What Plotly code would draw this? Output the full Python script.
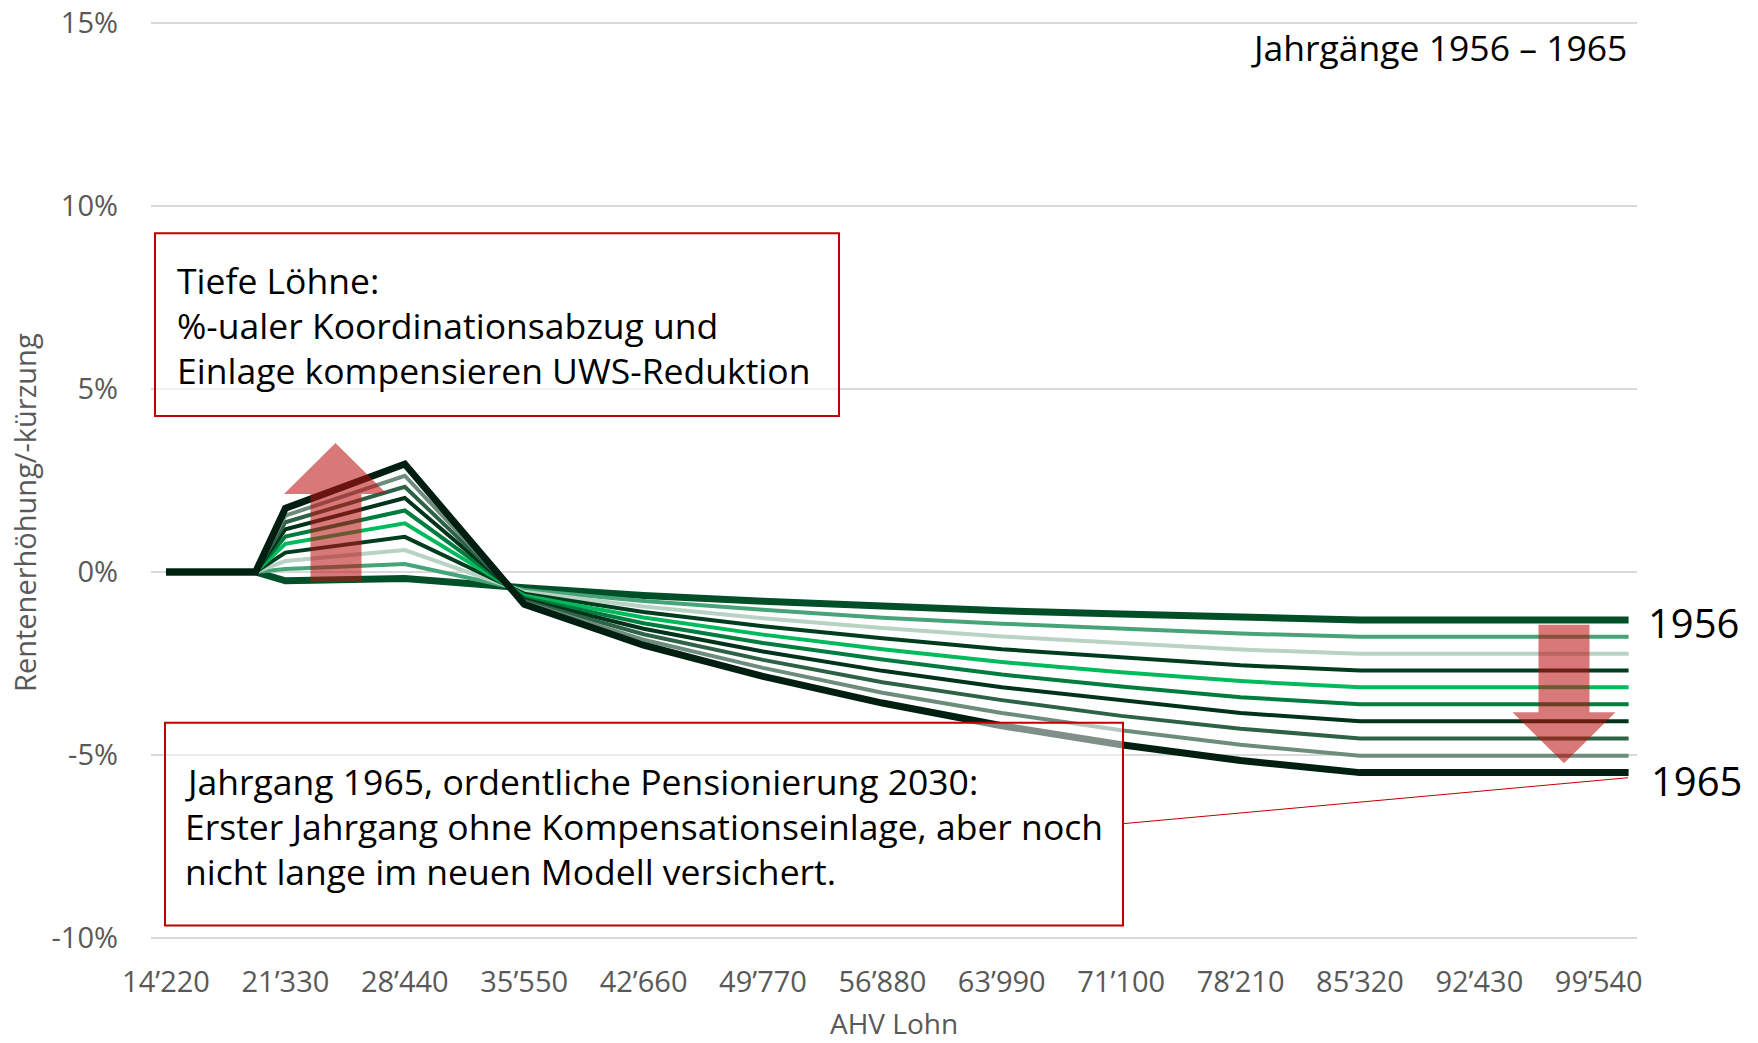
import plotly.graph_objects as go

# ---------------- data ----------------
years = ["1956", "1957", "1958", "1959", "1960", "1961", "1962", "1963", "1964", "1965"]
# wage points (category step 1777.5 CHF)
wages = [14220, 19552.5, 21330, 28440, 35550, 42660, 49770, 56880, 63990, 71100, 78210, 85320, 101317.5]

v1956 = [0, 0, -0.24, -0.18, -0.43, -0.64, -0.80, -0.95, -1.06, -1.15, -1.25, -1.31, -1.31]
v1957 = [0, 0, 0.08, 0.22, -0.49, -0.79, -1.03, -1.25, -1.41, -1.55, -1.68, -1.77, -1.77]
v1958 = [0, 0, 0.30, 0.60, -0.54, -0.94, -1.26, -1.53, -1.76, -1.94, -2.12, -2.23, -2.23]
v1959 = [0, 0, 0.53, 0.96, -0.59, -1.09, -1.48, -1.81, -2.11, -2.34, -2.55, -2.69, -2.69]
v1960 = [0, 0, 0.77, 1.33, -0.65, -1.24, -1.71, -2.11, -2.46, -2.74, -2.98, -3.15, -3.15]
v1961 = [0, 0, 0.97, 1.68, -0.70, -1.40, -1.94, -2.39, -2.80, -3.13, -3.42, -3.61, -3.61]
v1962 = [0, 0, 1.17, 2.02, -0.75, -1.55, -2.17, -2.70, -3.15, -3.50, -3.85, -4.08, -4.08]
v1963 = [0, 0, 1.36, 2.33, -0.79, -1.70, -2.40, -3.01, -3.50, -3.93, -4.28, -4.55, -4.55]
v1964 = [0, 0, 1.54, 2.63, -0.83, -1.85, -2.62, -3.30, -3.85, -4.32, -4.72, -5.02, -5.02]
v1965 = [0, 0, 1.74, 2.95, -0.88, -2.00, -2.85, -3.58, -4.20, -4.72, -5.15, -5.48, -5.48]

series = [v1956, v1957, v1958, v1959, v1960, v1961, v1962, v1963, v1964, v1965]

x_tickvals = [14220, 21330, 28440, 35550, 42660, 49770, 56880, 63990, 71100, 78210, 85320, 92430, 99540]
x_ticktext = ["14’220", "21’330", "28’440", "35’550", "42’660", "49’770", "56’880",
              "63’990", "71’100", "78’210", "85’320", "92’430", "99’540"]
y_tickvals = [-10, -5, 0, 5, 10, 15]
y_ticktext = ["-10%", "-5%", "0%", "5%", "10%", "15%"]

box1_lines = ["Tiefe Löhne:", "%-ualer Koordinationsabzug und", "Einlage kompensieren UWS-Reduktion"]
box2_lines = ["Jahrgang 1965, ordentliche Pensionierung 2030:",
              "Erster Jahrgang ohne Kompensationseinlage, aber noch",
              "nicht lange im neuen Modell versichert."]

# ---------------- styles ----------------
colors = ["#004F28", "#46A478", "#B8D2C4", "#003D1E", "#00BA5C",
          "#007D3E", "#00331A", "#2E6246", "#6E8C7C", "#001F10"]
widths = [7, 4, 4, 4, 4, 4, 4, 4, 4, 7]

W, H = 1758, 1043
L, R = 151, 1637            # plot area horizontal extent (px)
Y15, YM10 = 22.5, 938.5     # pixel rows of the 15% and -10% gridlines
PAD = 0.08                  # small range padding so edge gridlines are drawn
ppu = (YM10 - Y15) / 25.0
T = Y15 - PAD * ppu
B = YM10 + PAD * ppu
FONT = "Open Sans"
GREY = "#595959"
RED = "#C00000"
TXT = 35.5
AX = 29


def px(x):
    return (x - L) / (R - L)


def py(y):
    return (B - y) / (B - T)


fig = go.Figure()
for name, vals, c, w in zip(years, series, colors, widths):
    fig.add_trace(go.Scatter(x=wages, y=vals, mode="lines", name=name,
                             line=dict(color=c, width=w), showlegend=False,
                             hoverinfo="skip"))

# first category centred at 166 px, last at ~1628.6 px
s = (1628.6 - 166) / (wages[-1] - wages[0])
fig.update_xaxes(range=[wages[0] - (166 - L) / s, wages[-1] + (R - 1628.6) / s],
                 tickvals=x_tickvals, ticktext=x_ticktext,
                 showgrid=False, zeroline=False, showline=False, automargin=False,
                 tickfont=dict(family=FONT, size=AX, color=GREY),
                 ticks="", ticklabelstandoff=int(round(24 - PAD * ppu)))
fig.update_yaxes(range=[-10 - PAD, 15 + PAD], tickvals=y_tickvals, ticktext=y_ticktext,
                 showgrid=True, gridcolor="#D9D9D9", gridwidth=1.5,
                 zeroline=False, showline=False, automargin=False,
                 tickfont=dict(family=FONT, size=AX, color=GREY),
                 ticks="", ticklabelstandoff=32)

shapes = []
# text boxes (semi-transparent white fill)
shapes.append(dict(type="rect", xref="paper", yref="paper",
                   x0=px(155), x1=px(839), y0=py(233), y1=py(416),
                   line=dict(color=RED, width=2), fillcolor="rgba(255,255,255,0.6)",
                   layer="above"))
shapes.append(dict(type="rect", xref="paper", yref="paper",
                   x0=px(165), x1=px(1123), y0=py(723), y1=py(926),
                   line=dict(color=RED, width=2), fillcolor="rgba(255,255,255,0.5)",
                   layer="above"))
# connector
shapes.append(dict(type="line", xref="paper", yref="paper",
                   x0=px(1123), y0=py(824), x1=px(1628), y1=py(778),
                   line=dict(color=RED, width=1), layer="above"))


def poly(points):
    return "M " + " L ".join(f"{px(a):.5f},{py(b):.5f}" for a, b in points) + " Z"


up_arrow = [(310.5, 582), (361.5, 582), (361.5, 494), (387, 494), (335.5, 443),
            (284, 494), (310.5, 494)]
down_arrow = [(1538.5, 625), (1589.5, 625), (1589.5, 712.5), (1615.5, 712.5),
              (1564, 763.5), (1512.5, 712.5), (1538.5, 712.5)]
for pts in (up_arrow, down_arrow):
    shapes.append(dict(type="path", xref="paper", yref="paper", path=poly(pts),
                       fillcolor="rgba(188,15,15,0.56)", line=dict(width=0),
                       layer="above"))

ann = []
for i, t in enumerate(box1_lines):
    ann.append(dict(text=t, xref="paper", yref="paper", x=px(175), y=py(280 + 45 * i),
                    xanchor="left", yanchor="middle", showarrow=False,
                    font=dict(family=FONT, size=TXT, color="black")))
for i, t in enumerate(box2_lines):
    ann.append(dict(text=t, xref="paper", yref="paper", x=px(183), y=py(781 + 45 * i),
                    xanchor="left", yanchor="middle", showarrow=False,
                    font=dict(family=FONT, size=TXT, color="black")))
ann.append(dict(text="Jahrgänge 1956 – 1965", xref="paper", yref="paper",
                x=px(1629), y=py(47), xanchor="right", yanchor="middle",
                showarrow=False, font=dict(family=FONT, size=TXT, color="black")))
ann.append(dict(text=years[0], xref="paper", yref="paper", x=px(1646), y=py(623),
                xanchor="left", yanchor="middle", showarrow=False,
                font=dict(family=FONT, size=40, color="black")))
ann.append(dict(text=years[-1], xref="paper", yref="paper", x=px(1649), y=py(781),
                xanchor="left", yanchor="middle", showarrow=False,
                font=dict(family=FONT, size=40, color="black")))
ann.append(dict(text="AHV Lohn", xref="paper", yref="paper", x=px(894), y=py(1024),
                xanchor="center", yanchor="middle", showarrow=False,
                font=dict(family=FONT, size=28, color=GREY)))
ann.append(dict(text="Rentenerhöhung/-kürzung", xref="paper", yref="paper",
                x=px(25), y=py(513), xanchor="center", yanchor="middle",
                textangle=-90, showarrow=False,
                font=dict(family=FONT, size=AX, color=GREY)))

fig.update_layout(width=W, height=H, margin=dict(l=L, r=W - R, t=T, b=H - B, pad=0),
                  plot_bgcolor="white", paper_bgcolor="white",
                  shapes=shapes, annotations=ann)

fig.write_html("out.html", config={"displayModeBar": False},
               post_script="document.body.style.margin='0';")
